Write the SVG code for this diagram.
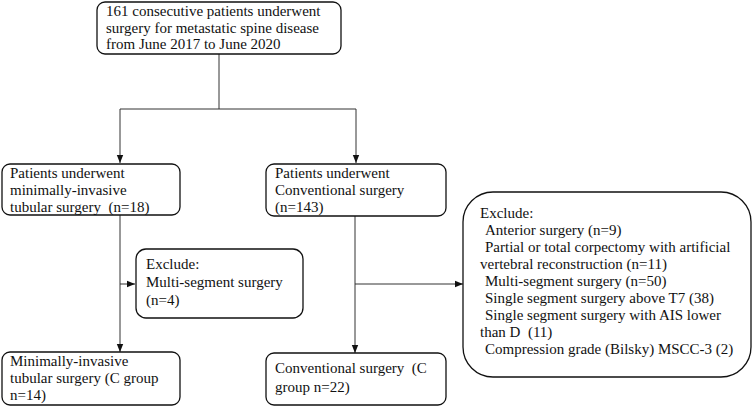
<svg xmlns="http://www.w3.org/2000/svg" width="753" height="407" viewBox="0 0 753 407">
<defs>
<marker id="ah" viewBox="0 0 8 8" refX="8" refY="4" markerWidth="8" markerHeight="8" markerUnits="userSpaceOnUse" orient="auto">
<path d="M0,0.8 L8,4 L0,7.2 Z" fill="#111"/>
</marker>
</defs>
<style>
.box{fill:#fff;stroke:#111;stroke-width:1.3}
.t{font-family:"Liberation Serif","DejaVu Serif","Times New Roman",serif;font-size:15px;fill:#111;white-space:pre}
.ln{fill:none;stroke:#333;stroke-width:1}
</style>
<rect width="753" height="407" fill="#fff"/>
<g id="connectors">
<path class="ln" d="M219,54 V109"/>
<path class="ln" d="M120,109 H356"/>
<path class="ln" d="M120,109 V163" marker-end="url(#ah)"/>
<path class="ln" d="M356,109 V163" marker-end="url(#ah)"/>
<path class="ln" d="M120,215 V352" marker-end="url(#ah)"/>
<path class="ln" d="M120,284 H135" marker-end="url(#ah)"/>
<path class="ln" d="M355,216 V353" marker-end="url(#ah)"/>
<path class="ln" d="M355,284 H463" marker-end="url(#ah)"/>
</g>
<g id="n-start">
<rect class="box" x="97" y="2" width="244" height="52" rx="8"/>
<text class="t" x="106" y="16">161 consecutive patients underwent</text>
<text class="t" x="106" y="32.5">surgery for metastatic spine disease</text>
<text class="t" x="106" y="49">from June 2017 to June 2020</text>
</g>
<g id="n-mis">
<rect class="box" x="2" y="164" width="178" height="51" rx="8"/>
<text class="t" x="10" y="178">Patients underwent</text>
<text class="t" x="10" y="195">minimally-invasive</text>
<text class="t" x="10" y="212" xml:space="preserve">tubular surgery  (n=18)</text>
</g>
<g id="n-conv">
<rect class="box" x="266" y="164" width="180" height="52" rx="8"/>
<text class="t" x="275" y="178">Patients underwent</text>
<text class="t" x="275" y="195">Conventional surgery</text>
<text class="t" x="275" y="212">(n=143)</text>
</g>
<g id="n-exclude-mis">
<rect class="box" x="136" y="249" width="167" height="69" rx="10"/>
<text class="t" x="146" y="269">Exclude:</text>
<text class="t" x="146" y="287">Multi-segment surgery</text>
<text class="t" x="146" y="305">(n=4)</text>
</g>
<g id="n-exclude-conv">
<rect class="box" x="463" y="192" width="288" height="185" rx="30"/>
<text class="t" x="480" y="218">Exclude:</text>
<text class="t" x="485" y="235">Anterior surgery (n=9)</text>
<text class="t" x="485" y="252">Partial or total corpectomy with artificial</text>
<text class="t" x="480" y="269">vertebral reconstruction (n=11)</text>
<text class="t" x="485" y="286">Multi-segment surgery (n=50)</text>
<text class="t" x="485" y="303">Single segment surgery above T7 (38)</text>
<text class="t" x="485" y="320">Single segment surgery with AIS lower</text>
<text class="t" x="480" y="337" xml:space="preserve">than D  (11)</text>
<text class="t" x="485" y="354">Compression grade (Bilsky) MSCC-3 (2)</text>
</g>
<g id="n-mis-final">
<rect class="box" x="2" y="352" width="178" height="53" rx="8"/>
<text class="t" x="10" y="366">Minimally-invasive</text>
<text class="t" x="10" y="383">tubular surgery (C group</text>
<text class="t" x="10" y="400">n=14)</text>
</g>
<g id="n-conv-final">
<rect class="box" x="266" y="353" width="180" height="52" rx="8"/>
<text class="t" x="275" y="373" xml:space="preserve">Conventional surgery  (C</text>
<text class="t" x="275" y="392">group n=22)</text>
</g>
</svg>
